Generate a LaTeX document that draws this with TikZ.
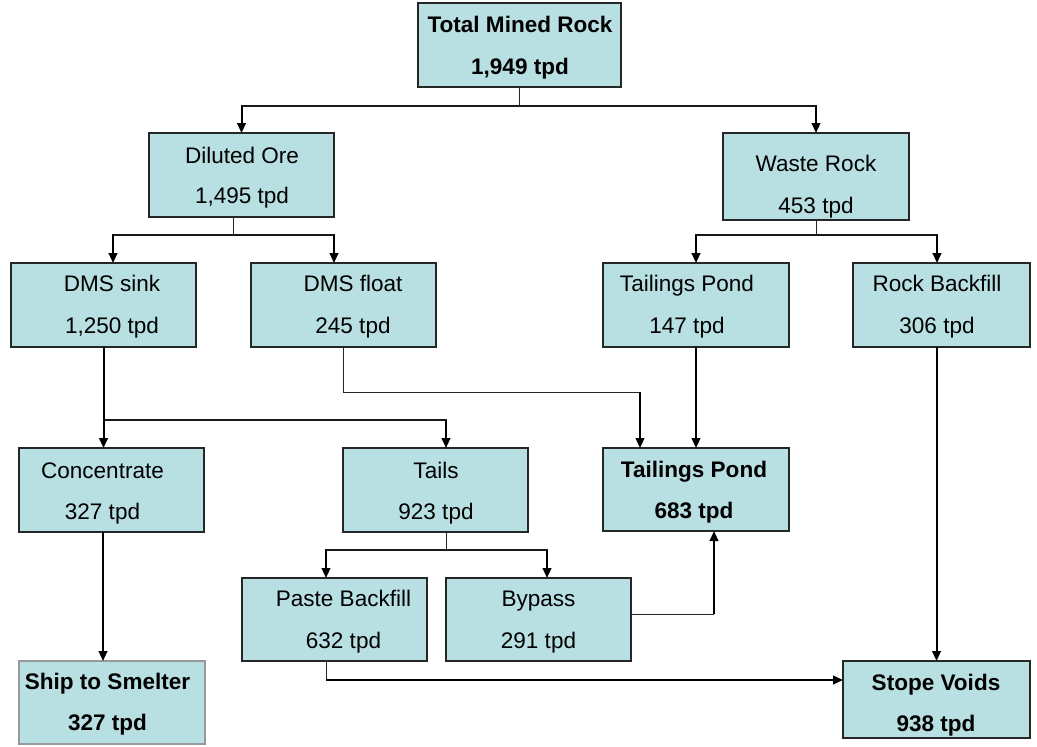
\documentclass[tikz,border=0pt]{standalone}
\usepackage{fontspec}
\setmainfont{Liberation Sans}
\usetikzlibrary{arrows.meta,calc}
\definecolor{boxfill}{HTML}{B8DFE2}
\begin{document}
\begin{tikzpicture}[x=0.75pt,y=-0.75pt,
  box/.style={draw=black!85,line width=0.8pt,fill=boxfill,inner sep=0pt,outer sep=0pt},
  lbl/.style={font=\fontsize{16.9}{20}\selectfont,inner sep=0pt,text height=12pt,text depth=0pt,anchor=center},
  blbl/.style={lbl,font=\fontsize{16.9}{20}\selectfont\bfseries},
  thinln/.style={line width=0.75pt,draw=black!85},
  hln/.style={line width=1pt,draw=black!90,line cap=rect},
  arr/.style={line width=1.5pt,-{Triangle[length=7.5pt,width=6.5pt]}},
]
\useasboundingbox (0,0) rectangle (1037,746);

% boxes
\node[box,minimum width=152.25pt,minimum height=63pt] (tmr) at (519.5,45) {};
\node[box,minimum width=138.75pt,minimum height=63pt] (dil) at (241.5,175) {};
\node[box,minimum width=139.5pt,minimum height=65.25pt] (waste) at (816,176.5) {};
\node[box,minimum width=138.75pt,minimum height=63pt] (sink) at (103.5,305) {};
\node[box,minimum width=138.75pt,minimum height=63pt] (float) at (343.5,305) {};
\node[box,minimum width=139.5pt,minimum height=63pt] (pondA) at (696,305) {};
\node[box,minimum width=132.75pt,minimum height=63pt] (rock) at (941.5,305) {};
\node[box,minimum width=138.75pt,minimum height=63pt] (conc) at (111.5,490) {};
\node[box,minimum width=138.75pt,minimum height=63pt] (tails) at (435.5,490) {};
\node[box,minimum width=139.5pt,minimum height=62.25pt] (pondB) at (696,489.5) {};
\node[box,minimum width=138.75pt,minimum height=62.25pt] (paste) at (334.5,619.5) {};
\node[box,minimum width=138.75pt,minimum height=62.25pt] (bypass) at (538.5,619.5) {};
\node[box,draw=gray!80,minimum width=139.5pt,minimum height=62.25pt] (ship) at (112,702.5) {};
\node[box,minimum width=140.25pt,minimum height=57.75pt] (stope) at (936.5,699.5) {};

% texts
\node[blbl] (t1a) at (520,24) {Total Mined Rock};
\node[blbl] (t1b) at (520,66) {1,949 tpd};
\node[lbl] (t2a) at (242,155) {Diluted Ore};
\node[lbl] (t2b) at (242,195) {1,495 tpd};
\node[lbl] (t3a) at (816,163) {Waste Rock};
\node[lbl] (t3b) at (816,205) {453 tpd};
\node[lbl] (t4a) at (112,283) {DMS sink};
\node[lbl] (t4b) at (112,325) {1,250 tpd};
\node[lbl] (t5a) at (353,283) {DMS float};
\node[lbl] (t5b) at (353,325) {245 tpd};
\node[lbl] (t6a) at (687,283) {Tailings Pond};
\node[lbl] (t6b) at (687,325) {147 tpd};
\node[lbl] (t7a) at (937,283) {Rock Backfill};
\node[lbl] (t7b) at (937,325) {306 tpd};
\node[lbl] (t8a) at (102.5,470) {Concentrate};
\node[lbl] (t8b) at (102.5,511) {327 tpd};
\node[lbl] (t9a) at (436,470) {Tails};
\node[lbl] (t9b) at (436,511) {923 tpd};
\node[blbl] (t10a) at (694,469) {Tailings Pond};
\node[blbl] (t10b) at (694,510) {683 tpd};
\node[lbl] (t11a) at (343.5,598) {Paste Backfill};
\node[lbl] (t11b) at (343.5,640) {632 tpd};
\node[lbl] (t12a) at (538.5,598) {Bypass};
\node[lbl] (t12b) at (538.5,640) {291 tpd};
\node[blbl] (t13a) at (107.5,681) {Ship to Smelter};
\node[blbl] (t13b) at (107.5,722) {327 tpd};
\node[blbl] (t14a) at (936,682) {Stope Voids};
\node[blbl] (t14b) at (936,723) {938 tpd};

% helper coordinates
\coordinate (j1) at (519.5,106);
\coordinate (j2) at (233,235);
\coordinate (j3) at (816,235);
\coordinate (j4) at (103.5,420);
\coordinate (j5) at (640,392);
\coordinate (j6) at (446,550);
\coordinate (sinkN) at ($(sink.north)+(9.5,0)$);
\coordinate (floatN) at ($(float.north)+(-9.5,0)$);
\coordinate (rockN) at ($(rock.north)+(-4.5,0)$);
\coordinate (tailsN) at ($(tails.north)+(10.5,0)$);
\coordinate (concS) at ($(conc.south)+(-8.5,0)$);
\coordinate (pasteN) at ($(paste.north)+(-8.5,0)$);
\coordinate (pasteS) at ($(paste.south)+(-8.5,0)$);
\coordinate (bypassN) at ($(bypass.north)+(8.5,0)$);
\coordinate (byE) at ($(bypass.east)+(0,-5.5)$);
\coordinate (pbS) at ($(pondB.south)+(18,0)$);
\coordinate (stopeW) at ($(stope.west)+(0,-19.5)$);

% tree from Total Mined Rock
\draw[thinln] (tmr.south) -- (j1);
\draw[hln] (dil.north |- j1) -- (waste.north |- j1);
\draw[arr] (dil.north |- j1) -- (dil.north);
\draw[arr] (waste.north |- j1) -- (waste.north);

% tree from Diluted Ore
\draw[thinln] (dil.south -| j2) -- (j2);
\draw[hln] (sinkN |- j2) -- (floatN |- j2);
\draw[arr] (sinkN |- j2) -- (sinkN);
\draw[arr] (floatN |- j2) -- (floatN);

% tree from Waste Rock
\draw[thinln] (waste.south) -- (j3);
\draw[hln] (pondA.north |- j3) -- (rockN |- j3);
\draw[arr] (pondA.north |- j3) -- (pondA.north);
\draw[arr] (rockN |- j3) -- (rockN);

% DMS sink to Concentrate and Tails
\draw[arr] (sink.south) -- (sink.south |- conc.north);
\draw[hln] (j4) -- (tailsN |- j4);
\draw[arr] (tailsN |- j4) -- (tailsN);

% DMS float to Tailings Pond
\draw[thinln] (float.south) -- (float.south |- j5) -- (j5);
\draw[arr] (j5) -- (j5 |- pondB.north);

% Tailings Pond to Tailings Pond
\draw[arr] (pondA.south) -- (pondB.north);

% Rock Backfill to Stope Voids
\draw[arr] (stope.north |- rock.south) -- (stope.north);

% Concentrate to Ship to Smelter
\draw[arr] (concS) -- (concS |- ship.north);

% tree from Tails
\draw[thinln] (tailsN |- tails.south) -- (tailsN |- j6);
\draw[hln] (pasteN |- j6) -- (bypassN |- j6);
\draw[arr] (pasteN |- j6) -- (pasteN);
\draw[arr] (bypassN |- j6) -- (bypassN);

% Bypass to Tailings Pond
\draw[thinln] (byE) -- (pbS |- byE);
\draw[arr] (pbS |- byE) -- (pbS);

% Paste Backfill to Stope Voids
\draw[thinln] (pasteS) -- (pasteS |- stopeW);
\draw[arr] (pasteS |- stopeW) -- (stopeW);
\end{tikzpicture}
\end{document}
